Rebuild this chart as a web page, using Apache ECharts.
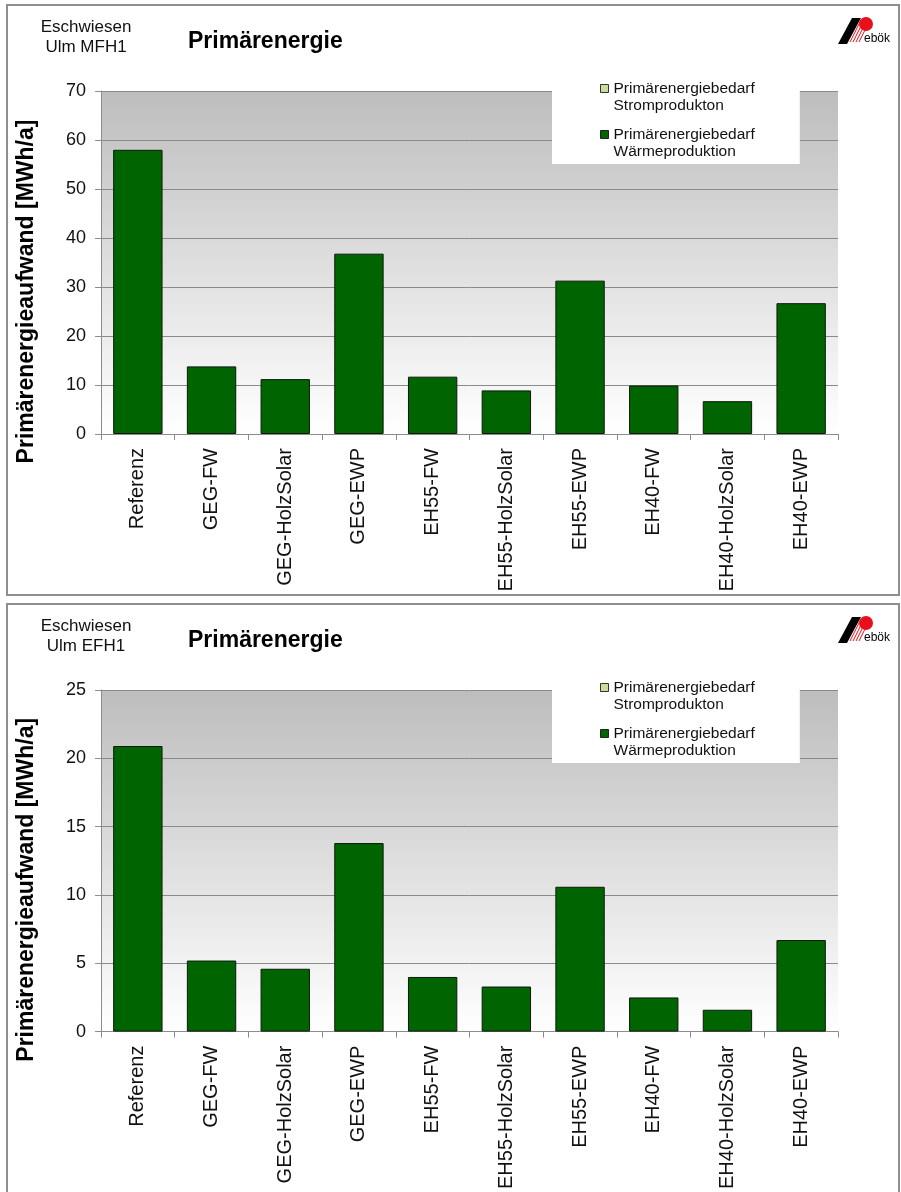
<!DOCTYPE html>
<html><head><meta charset="utf-8">
<script src="https://cdn.jsdelivr.net/npm/echarts@6/dist/echarts.min.js"></script>
<style>html,body{margin:0;padding:0;background:#fff}#c{width:901px;height:1192px}</style>
</head><body><div id="c"></div>
<script>
// ---- data ----
const categories = ['Referenz','GEG-FW','GEG-HolzSolar','GEG-EWP','EH55-FW','EH55-HolzSolar','EH55-EWP','EH40-FW','EH40-HolzSolar','EH40-EWP'];
const waermeMFH = [58.0, 13.8, 11.2, 36.8, 11.7, 8.9, 31.3, 9.9, 6.7, 26.7];
const stromMFH  = [0, 0, 0, 0, 0, 0, 0, 0, 0, 0];
const waermeEFH = [20.9, 5.2, 4.6, 13.8, 4.0, 3.3, 10.6, 2.5, 1.6, 6.7];
const stromEFH  = [0, 0, 0, 0, 0, 0, 0, 0, 0, 0];
const yAxisMFH = [0, 70, 10];   // min, max, interval
const yAxisEFH = [0, 25, 5];
const projectLabels = ['Eschwiesen\nUlm MFH1', 'Eschwiesen\nUlm EFH1'];
const chartTitle = 'Primärenergie';
const yAxisTitle = 'Primärenergieaufwand [MWh/a]';
const seriesStrom = 'Primärenergiebedarf\nStromprodukton';
const seriesWaerme = 'Primärenergiebedarf\nWärmeproduktion';

// ---- styles ----
const FONT = '"Liberation Sans", Arial, sans-serif';
const GREEN = '#006400';
const LIGHT = '#c9dc9a';
const panels = [
  {dy: 0, waerme: waermeMFH, strom: stromMFH, y: yAxisMFH, label: projectLabels[0]},
  {dy: 599, waerme: waermeEFH, strom: stromEFH, y: yAxisEFH, label: projectLabels[1]}
];

const grids = [], xAxes = [], yAxes = [], series = [], legends = [], graphics = [];
panels.forEach((p, i) => {
  grids.push({
    left: 101, top: 91 + p.dy, width: 737, height: 343,
    show: true, borderWidth: 0,
    backgroundColor: {type: 'linear', x: 0, y: 0, x2: 0, y2: 1,
      colorStops: [{offset: 0, color: '#bdbdbd'}, {offset: 1, color: '#ffffff'}]}
  });
  xAxes.push({
    type: 'category', gridIndex: i, data: categories,
    axisLine: {lineStyle: {color: '#8c8c8c', width: 1}},
    axisTick: {show: true, length: 6, interval: 0, lineStyle: {color: '#8c8c8c'}},
    axisLabel: {rotate: 90, margin: 14, interval: 0, color: '#111', fontSize: 20, fontFamily: FONT}
  });
  yAxes.push({
    type: 'value', gridIndex: i, min: p.y[0], max: p.y[1], interval: p.y[2],
    name: yAxisTitle, nameLocation: 'middle', nameRotate: 90, nameGap: 63,
    nameTextStyle: {fontSize: 23, fontWeight: 'bold', fontFamily: FONT, color: '#000', padding: [0, 58, 0, 0]},
    axisLine: {show: true, lineStyle: {color: '#8c8c8c'}},
    axisTick: {show: true, length: 6, lineStyle: {color: '#8c8c8c'}},
    axisLabel: {margin: 15, color: '#111', fontSize: 18, fontFamily: FONT},
    splitLine: {lineStyle: {color: '#8a8a8a', width: 1}}
  });
  series.push({
    name: seriesWaerme, type: 'bar', stack: 's' + i, xAxisIndex: i, yAxisIndex: i,
    data: p.waerme, barCategoryGap: '33%',
    itemStyle: {color: GREEN, borderColor: '#0d1a0d', borderWidth: 1}
  });
  series.push({
    name: seriesStrom, type: 'bar', stack: 's' + i, xAxisIndex: i, yAxisIndex: i,
    data: p.strom, barCategoryGap: '33%',
    itemStyle: {color: LIGHT, borderColor: '#333', borderWidth: 0}
  });
  legends.push({
    left: 552, top: 61 + p.dy, orient: 'vertical',
    backgroundColor: '#fff', padding: [2, 45, 4, 48],
    itemWidth: 8, itemHeight: 8, itemGap: -5, icon: 'rect',
    selectedMode: false,
    formatter: n => '\n' + n,
    data: [
      {name: seriesStrom, itemStyle: {color: LIGHT, borderColor: '#333', borderWidth: 1}},
      {name: seriesWaerme, itemStyle: {color: GREEN, borderColor: '#222', borderWidth: 1}}
    ],
    textStyle: {fontSize: 15.5, lineHeight: 17, fontFamily: FONT, color: '#111'}
  });
  // panel frame
  graphics.push({type: 'rect', shape: {x: 7, y: 5 + p.dy, width: 892, height: 590},
    style: {fill: null, stroke: '#8e8e8e', lineWidth: 2}, z: -10, silent: true});
  graphics.push({type: 'text', x: 86, y: 17 + p.dy,
    style: {text: p.label, fontSize: 17, lineHeight: 20, fontFamily: FONT, fill: '#111', align: 'center', verticalAlign: 'top'}});
  graphics.push({type: 'text', x: 188, y: 42 + p.dy,
    style: {text: chartTitle, fontSize: 23, fontWeight: 'bold', fontFamily: FONT, fill: '#000', align: 'left', verticalAlign: 'middle'}});
  // logo
  graphics.push({type: 'circle', shape: {cx: 866, cy: 24 + p.dy, r: 7}, style: {fill: '#e8101a'}});
  graphics.push({type: 'polygon', shape: {points: [[838, 44 + p.dy], [852, 18 + p.dy], [861, 18 + p.dy], [847, 44 + p.dy]]}, style: {fill: '#000'}});
  for (let k = 0; k < 4; k++) {
    graphics.push({type: 'line', shape: {x1: 861 + k * 3, y1: 20 + p.dy, x2: 850 + k * 3, y2: 42 + p.dy}, style: {stroke: '#e8101a', lineWidth: 1}});
  }
  graphics.push({type: 'text', x: 864, y: 45 + p.dy,
    style: {text: 'ebök', fontSize: 12, fontFamily: FONT, fill: '#000', align: 'left', verticalAlign: 'bottom'}});
});

const chart = echarts.init(document.getElementById('c'), null, {renderer: 'canvas'});
chart.setOption({
  animation: false,
  backgroundColor: '#fff',
  grid: grids, xAxis: xAxes, yAxis: yAxes, series: series, legend: legends,
  graphic: graphics
});
</script>
</body></html>
